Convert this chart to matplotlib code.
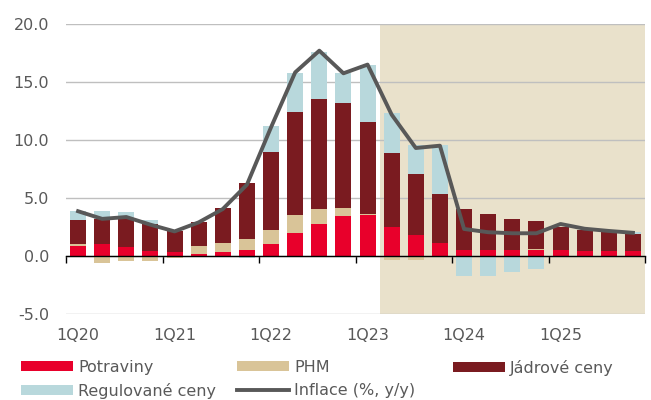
import numpy as np
import matplotlib.pyplot as plt
from matplotlib.patches import Patch
from matplotlib.lines import Line2D

plt.rcParams['font.family'] = ['DejaVu Sans']

# quarters 1Q20 .. 4Q25
quarters = [f'{q}Q{y}' for y in range(20, 26) for q in range(1, 5)]
potraviny = [0.89, 1.0, 0.75, 0.46, 0.32, 0.14, 0.37, 0.49, 1.0, 2.01, 2.79, 3.48,
             3.53, 2.5, 1.84, 1.09, 0.49, 0.55, 0.49, 0.49, 0.55, 0.46, 0.46, 0.46]
phm = [0.17, -0.57, -0.4, -0.4, -0.2, 0.72, 0.75, 1.0, 1.24, 1.55, 1.26, 0.63,
       0.09, -0.37, -0.32, -0.11, 0.0, 0.0, 0.0, 0.11, 0.0, 0.0, -0.09, -0.09]
jadrove = [2.03, 2.15, 2.48, 2.34, 1.8, 2.04, 2.98, 4.83, 6.73, 8.85, 9.48, 9.11,
           7.93, 6.35, 5.23, 4.23, 3.56, 3.1, 2.7, 2.39, 1.92, 1.74, 1.57, 1.4]
regulovane = [0.75, 0.69, 0.55, 0.29, 0.0, 0.0, 0.0, -0.2, 2.21, 3.37, 4.07, 2.53,
              4.92, 3.51, 2.5, 4.25, -1.75, -1.72, -1.35, -1.09, 0.0, 0.0, 0.0, 0.23]
inflace = [3.86, 3.2, 3.36, 2.7, 2.12, 2.9, 4.05, 6.15, 11.1, 15.83, 17.7, 15.75,
           16.5, 12.18, 9.31, 9.51, 2.33, 2.05, 1.96, 1.96, 2.76, 2.35, 2.16, 2.0]

colors = {'Potraviny': '#E8002B', 'PHM': '#D9C498',
          'Jádrové ceny': '#7A1B20', 'Regulované ceny': '#B8D8DC'}
series = [('Potraviny', potraviny), ('PHM', phm),
          ('Jádrové ceny', jadrove), ('Regulované ceny', regulovane)]

text_col = '#595959'
line_col = '#585858'
fs = 11.5
x = np.arange(len(quarters))

fig = plt.figure(figsize=(6.51, 4.0), dpi=100)
ax = fig.add_axes([66 / 651, 86 / 400, 579 / 651, 290 / 400])

# forecast shading
ax.axvspan(12.5, 23.5, color='#E9E1CB', lw=0, zorder=0)

# stack positives up and negatives down
pos_base = np.zeros(len(x))
neg_base = np.zeros(len(x))
for name, vals in series:
    v = np.array(vals)
    base = np.where(v >= 0, pos_base, neg_base)
    ax.bar(x, v, width=0.66, bottom=base, color=colors[name], lw=0, zorder=2)
    pos_base += np.clip(v, 0, None)
    neg_base += np.clip(v, None, 0)

ax.plot(x, inflace, color=line_col, lw=2.8, zorder=3)

ax.set_xlim(-0.5, 23.5)
ax.set_ylim(-5, 20)
yt = np.arange(-5, 21, 5)
ax.set_yticks(yt)
ax.set_yticklabels([f'{t:.1f}' for t in yt])
ax.yaxis.grid(True, color='#BFBFBF', lw=1)
ax.set_axisbelow(True)
ax.tick_params(axis='y', length=0, pad=12, labelsize=fs, labelcolor=text_col)

for s in ['left', 'right', 'top']:
    ax.spines[s].set_visible(False)
ax.spines['bottom'].set_position(('data', 0))
ax.spines['bottom'].set_color('black')
ax.spines['bottom'].set_linewidth(1.0)
ax.spines['bottom'].set_zorder(4)

ax.set_xticks(x[::4])
ax.set_xticklabels(quarters[::4])
ax.set_xticks(np.arange(-0.5, 24, 4), minor=True)
ax.tick_params(axis='x', which='major', length=0, pad=52, labelsize=fs, labelcolor=text_col)
ax.tick_params(axis='x', which='minor', length=5, width=1.0, color='black', direction='out')

# legend: three fixed columns like the original
leg_cols = [
    (21, [Patch(color=colors['Potraviny'], lw=0), Patch(color=colors['Regulované ceny'], lw=0)],
     ['Potraviny', 'Regulované ceny']),
    (237, [Patch(color=colors['PHM'], lw=0), Line2D([], [], color=line_col, lw=2.8)],
     ['PHM', 'Inflace (%, y/y)']),
    (453, [Patch(color=colors['Jádrové ceny'], lw=0)], ['Jádrové ceny']),
]
for xpos, hs, ls in leg_cols:
    fig.legend(hs, ls, loc='upper left', bbox_to_anchor=(xpos / 651, 1 - 360 / 400),
               frameon=False, fontsize=fs, labelcolor=text_col,
               handlelength=3.25, handleheight=0.6, handletextpad=0.33,
               borderpad=0, borderaxespad=0, labelspacing=0.5)

fig.savefig('out.png', dpi=100)
